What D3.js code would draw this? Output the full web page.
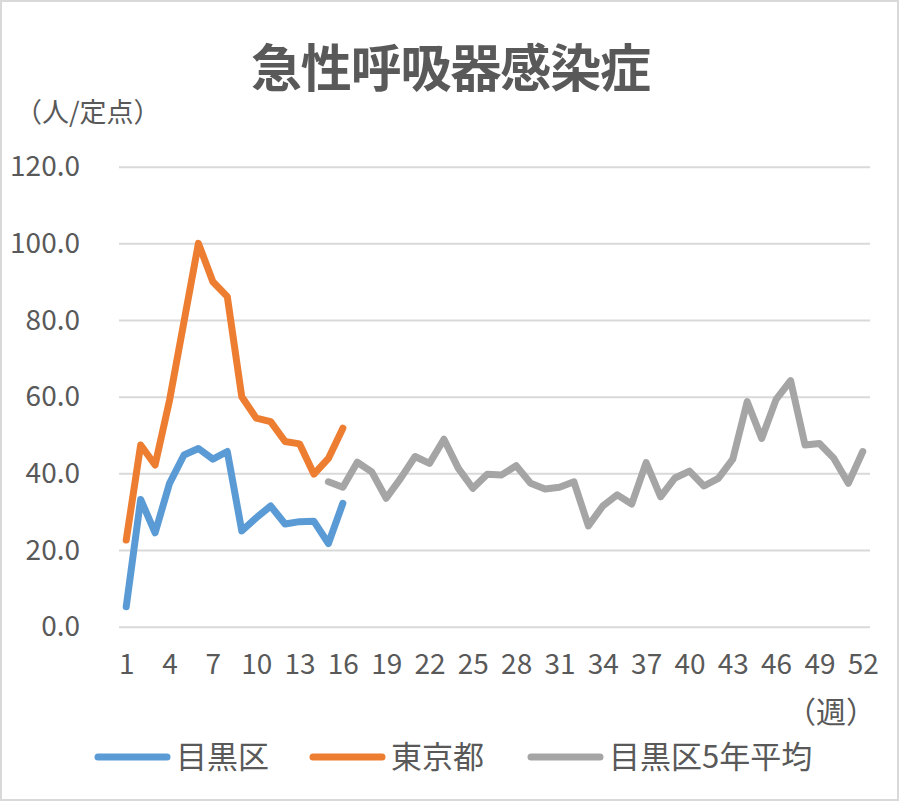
<!DOCTYPE html>
<html>
<head>
<meta charset="utf-8">
<script src="https://cdn.jsdelivr.net/npm/d3@7"></script>
<style>
  body { margin: 0; background: #fff; }
  text { font-family: "Noto Sans CJK JP", "Noto Sans", sans-serif; fill: #595959; }
</style>
</head>
<body>
<script>
// データ（週ごとの定点当たり報告数）
const weeks = d3.range(1, 53)
const meguro = [5.2, 33.2, 24.5, 37.4, 44.8, 46.5, 43.7, 45.7, 25.0, 28.4, 31.5, 26.8, 27.4, 27.5, 21.7, 32.2]
const tokyo = [22.6, 47.4, 42.2, 59.1, 79.6, 100.0, 90.0, 86.1, 60.0, 54.4, 53.5, 48.3, 47.7, 39.8, 43.9, 51.8]
// 目黒区5年平均は第15週から
const avgStart = 15
const meguroAvg = [37.8, 36.4, 42.9, 40.4, 33.5, 38.7, 44.4, 42.6, 48.9, 41.3,
  36.1, 39.8, 39.6, 42.0, 37.4, 35.9, 36.4, 37.8, 26.3, 31.5,
  34.4, 32.0, 42.8, 33.9, 38.8, 40.6, 36.7, 38.7, 43.7, 58.7,
  49.1, 59.3, 64.2, 47.4, 47.8, 43.9, 37.4, 45.7]
const yTicks = [0, 20, 40, 60, 80, 100, 120]
const xTicks = d3.range(1, 53, 3)
const seriesNames = ["目黒区", "東京都", "目黒区5年平均"]
const colors = ["#5b9bd5", "#ed7d31", "#a5a5a5"]

const W = 900, H = 803
const plot = { left: 119, right: 870, top: 166.7, bottom: 626.7 }

const svg = d3.select("body").append("svg")
  .attr("width", W)
  .attr("height", H)

// 外枠
svg.append("rect")
  .attr("x", 1).attr("y", 1)
  .attr("width", W - 3).attr("height", H - 4)
  .attr("fill", "#fff")
  .attr("stroke", "#d9d9d9")
  .attr("stroke-width", 2)

const x = d3.scalePoint()
  .domain(weeks)
  .range([plot.left, plot.right])
  .padding(0.5)

const y = d3.scaleLinear()
  .domain([0, 120])
  .range([plot.bottom, plot.top])

// 横のグリッド線と縦軸ラベル
const yAxis = svg.append("g")
  .attr("transform", "translate(" + plot.left + ",0)")
  .call(d3.axisLeft(y).tickValues(yTicks).tickFormat(d3.format(".1f"))
    .tickSize(-(plot.right - plot.left)).tickPadding(39))
yAxis.select(".domain").remove()
yAxis.selectAll(".tick line").attr("stroke", "#d9d9d9").attr("stroke-width", 2)
yAxis.selectAll(".tick text")
  .attr("font-size", 28)
  .style("font-family", '"Noto Sans CJK JP", sans-serif')
  .attr("fill", "#595959")

// 横軸（週）
const xAxis = svg.append("g")
  .attr("transform", "translate(0," + plot.bottom + ")")
  .call(d3.axisBottom(x).tickValues(xTicks).tickSize(0).tickPadding(27))
xAxis.select(".domain").remove()
xAxis.selectAll(".tick text")
  .attr("font-size", 28)
  .style("font-family", '"Noto Sans CJK JP", sans-serif')
  .attr("fill", "#595959")

// 線
const line = d3.line()
  .defined(d => d.v != null)
  .x(d => x(d.w))
  .y(d => y(d.v))

const allSeries = [
  meguro.map((v, i) => ({ w: i + 1, v: v })),
  tokyo.map((v, i) => ({ w: i + 1, v: v })),
  meguroAvg.map((v, i) => ({ w: i + avgStart, v: v }))
]

svg.append("g")
  .selectAll("path")
  .data([allSeries[2], allSeries[0], allSeries[1]])
  .join("path")
  .attr("d", line)
  .attr("fill", "none")
  .attr("stroke", (d, i) => [colors[2], colors[0], colors[1]][i])
  .attr("stroke-width", 7)
  .attr("stroke-linejoin", "round")
  .attr("stroke-linecap", "round")

// タイトル
svg.append("text")
  .attr("x", 451)
  .attr("y", 87)
  .attr("text-anchor", "middle")
  .attr("font-size", 51)
  .attr("font-weight", "bold")
  .attr("textLength", 400)
  .attr("lengthAdjust", "spacing")
  .text("急性呼吸器感染症")

// 単位
svg.append("text")
  .attr("x", 15)
  .attr("y", 122)
  .attr("font-size", 27)
  .text("（人/定点）")

svg.append("text")
  .attr("x", 876)
  .attr("y", 723)
  .attr("text-anchor", "end")
  .attr("font-size", 30)
  .text("（週）")

// 凡例
const legendX = [95, 310, 528]
const legend = svg.append("g")
  .selectAll("g")
  .data(seriesNames)
  .join("g")
  .attr("transform", (d, i) => "translate(" + legendX[i] + ",757)")

legend.append("line")
  .attr("x1", 3).attr("x2", 72)
  .attr("stroke", (d, i) => colors[i])
  .attr("stroke-width", 7)
  .attr("stroke-linecap", "round")

legend.append("text")
  .attr("x", 81)
  .attr("y", 11)
  .attr("font-size", 31)
  .text(d => d)
</script>
</body>
</html>
